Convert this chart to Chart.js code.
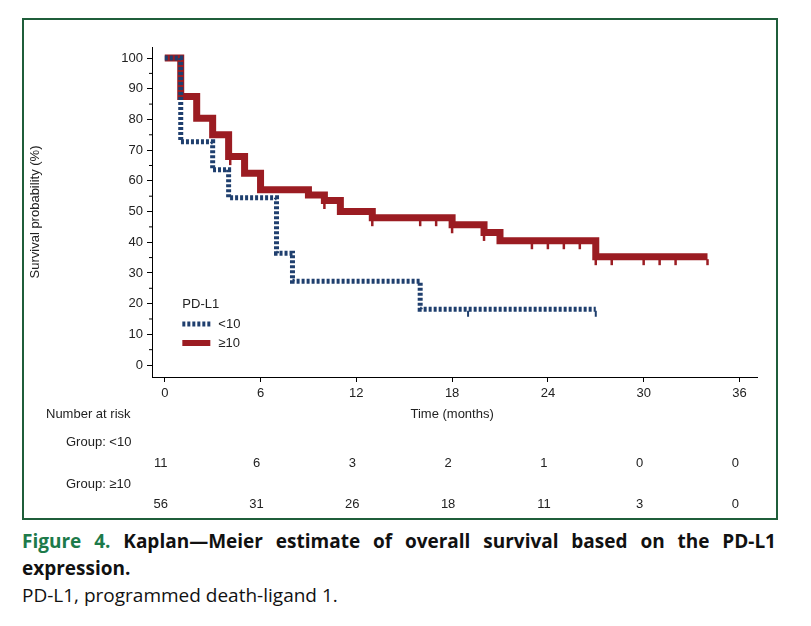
<!DOCTYPE html>
<html><head><meta charset="utf-8">
<script src="https://cdn.jsdelivr.net/npm/chart.js@4"></script>
<style>
body{margin:0;background:#fff;font-family:"Open Sans",sans-serif}
#box{position:absolute;left:22px;top:18px;width:752px;height:498px;border:2px solid #1f5e3a}
#cap{position:absolute;left:22px;top:528px;width:754px;font-size:19px;line-height:27px;color:#111}
#cap b.g{color:#1d7a4a}
</style></head><body>
<div id="box"><canvas id="km" width="752" height="498"></canvas></div>
<div id="cap"><div style="text-align:justify;text-align-last:left"><b class="g">Figure 4.</b> <b>Kaplan—Meier estimate of overall survival based on the PD-L1 expression.</b></div>PD-L1, programmed death-ligand 1.</div>
<script>
const lowTimes = [0, 1, 3, 4, 7, 8, 16, 27];
const lowSurv = [100, 72.7, 63.6, 54.5, 36.4, 27.3, 18.2, 18.2];
const lowCensor = [19, 27];
const highTimes = [0, 1, 2, 3, 4, 5, 6, 9, 10, 11, 13, 18, 20, 21, 27, 34];
const highSurv = [100, 87.5, 80.4, 75, 67.9, 62.5, 57.1, 55.4, 53.6, 50, 48, 45.7, 43.2, 40.5, 35.3, 35.3];
const highCensor = [{t:4.1,s:67.9},{t:10,s:53.6},{t:13,s:48},{t:16,s:48},{t:17,s:48},{t:18,s:45.7},{t:20,s:43.2},{t:23,s:40.5},{t:24,s:40.5},{t:25,s:40.5},{t:26,s:40.5},{t:27,s:35.3},{t:28,s:35.3},{t:30,s:35.3},{t:31,s:35.3},{t:32,s:35.3},{t:34,s:35.3}];
const riskTimes = [0, 6, 12, 18, 24, 30, 36];
const riskLow = [11, 6, 3, 2, 1, 0, 0];
const riskHigh = [56, 31, 26, 18, 11, 3, 0];

const blue = '#1f3f6e', red = '#9b1c22';
const FONT = '13px "Liberation Sans"';
const pts = (t, s) => t.map((x, i) => ({x, y: s[i]}));
const lowC = lowCensor.map(t => ({x: t, y: 18.2}));

const extras = {
  id: 'extras',
  afterDraw(c) {
    const g = c.ctx, xs = c.scales.x, ys = c.scales.y;
    g.save();
    g.strokeStyle = '#000'; g.lineWidth = 1;
    for (let v = 5; v < 100; v += 10) {
      const y = ys.getPixelForValue(v);
      g.beginPath(); g.moveTo(xs.left - 3, y); g.lineTo(xs.left, y); g.stroke();
    }
    g.font = FONT; g.fillStyle = '#222'; g.textBaseline = 'middle';
    // legend
    const lx = xs.getPixelForValue(1.1);
    g.fillText('PD-L1', lx, 284);
    g.fillText('<10', lx + 36, 304);
    g.fillText('\u226510', lx + 36, 323);
    g.setLineDash([3, 2]); g.lineWidth = 5; g.strokeStyle = blue;
    g.beginPath(); g.moveTo(lx, 304); g.lineTo(lx + 28, 304); g.stroke();
    g.setLineDash([]); g.strokeStyle = red; g.lineWidth = 6;
    g.beginPath(); g.moveTo(lx, 323); g.lineTo(lx + 28, 323); g.stroke();
    // axis title and risk table
    g.fillStyle = '#222';
    g.fillText('Number at risk', 22, 394);
    g.fillText('Group: <10', 42, 422);
    g.fillText('Group: \u226510', 42, 464);
    g.textAlign = 'center';
    g.fillText('Time (months)', xs.getPixelForValue(18), 394);
    riskTimes.forEach((t, i) => {
      const x = xs.getPixelForValue(t);
      g.fillText(riskLow[i], x - 4, 443);
      g.fillText(riskHigh[i], x - 4, 484);
    });
    g.restore();
  }
};

new Chart(document.getElementById('km'), {
  type: 'line',
  data: {
    datasets: [
      {data: pts(highTimes, highSurv), stepped: 'before', borderColor: red, borderWidth: 7, pointRadius: 0, order: 2},
      {data: pts(lowTimes, lowSurv), stepped: 'before', borderColor: blue, borderWidth: 5, borderDash: [3, 2], pointRadius: 0, order: 1},
      {type: 'scatter', data: highCensor.map(p => ({x: p.t, y: p.s - 1.8})), pointStyle: 'line', rotation: 90, radius: 3, borderColor: red, borderWidth: 2.5},
      {type: 'scatter', data: lowC.map(p => ({x: p.x, y: p.y - 1.5})), pointStyle: 'line', rotation: 90, radius: 3, borderColor: blue, borderWidth: 2}
    ]
  },
  options: {
    responsive: false, animation: false,
    layout: {padding: {top: 27, right: 19, left: 0, bottom: 0}},
    plugins: {legend: {display: false}, tooltip: {enabled: false}},
    scales: {
      x: {
        type: 'linear', min: -0.8, max: 37.1,
        afterFit: s => { s.height = 141; },
        afterBuildTicks: s => { s.ticks = riskTimes.map(v => ({value: v})); },
        grid: {drawOnChartArea: false, tickLength: 5, color: '#000'},
        border: {color: '#000'},
        ticks: {color: '#222', font: {family: 'Liberation Sans', size: 13}, padding: 4}
      },
      y: {
        min: -3.9, max: 103.6,
        afterFit: s => { s.width = 128; },
        afterBuildTicks: s => { s.ticks = [0,10,20,30,40,50,60,70,80,90,100].map(v => ({value: v})); },
        grid: {drawOnChartArea: false, tickLength: 5, color: '#000'},
        border: {color: '#000'},
        ticks: {color: '#222', font: {family: 'Liberation Sans', size: 13}, padding: 4},
        title: {display: true, text: 'Survival probability (%)', color: '#222', font: {family: 'Liberation Sans', size: 13}, padding: {bottom: 14}}
      }
    }
  },
  plugins: [extras]
});
</script></body></html>
